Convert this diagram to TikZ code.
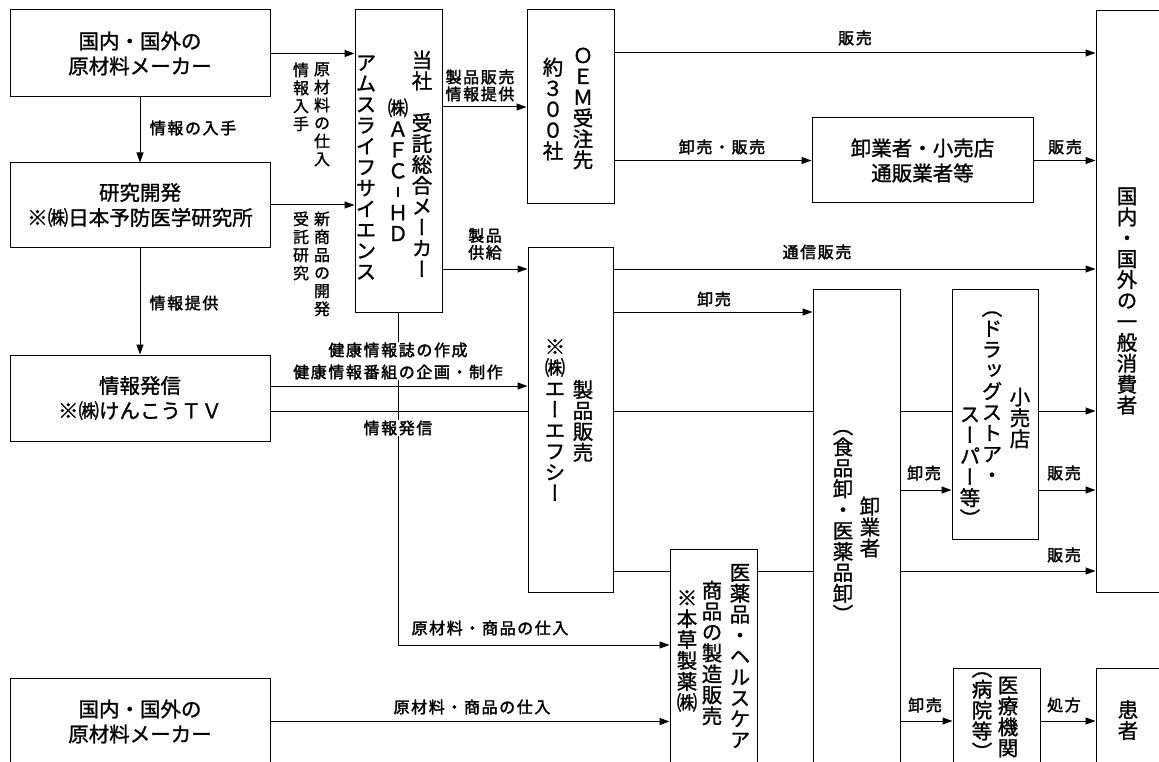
\documentclass[tikz,border=0pt]{standalone}
\usepackage{fontspec}
\usetikzlibrary{arrows.meta}
\setmainfont{Noto Sans CJK JP}[FakeBold=1.2]
\newfontfamily\tatefont[RawFeature=+vert, FakeBold=1.2]{Noto Sans CJK JP}
\newfontfamily\labfont[LetterSpace=10, FakeBold=2]{Noto Sans CJK JP}
\makeatletter
\newcommand\tate[2][1.02em]{\vtop{\tatefont\baselineskip=#1\relax\lineskiplimit=-\maxdimen
  \@tfor\tate@c:=#2\do{\hbox to 1em{\hss\tate@c\hss}}}}
\makeatother
\begin{document}
\begin{tikzpicture}[x=1pt, y=-1pt, ->, >={Triangle[length=10pt,width=7pt]}, line width=1pt,
    box/.style={draw, -, inner sep=0pt, align=center, font=\fontsize{20.5}{25}\selectfont},
    col/.style={inner sep=0pt, font=\fontsize{20.5}{25}\selectfont},
    lbl/.style={inner sep=1pt, align=center, font=\labfont\fontsize{16}{17}\selectfont},
    vlbl/.style={inner sep=0pt, anchor=north, font=\fontsize{16}{18}\selectfont}]
        \useasboundingbox (0,0) rectangle (1159,762);
        \fill[white] (0,0) rectangle (1159,762);
        \clip (0,0) rectangle (1159,762);

        \node[box, minimum width=260, minimum height=87] (mk1) at (140,53.5) {国内・国外の\\原材料メーカー};
        \node[box, minimum width=260, minimum height=84] (lab) at (140,205) {研究開発\\※㈱日本予防医学研究所};
        \node[box, minimum width=260, minimum height=86] (tv) at (140,398) {情報発信\\※㈱けんこうＴＶ};
        \node[box, minimum width=260, minimum height=87] (mk2) at (140,721.5) {国内・国外の\\原材料メーカー};
        \node[box, minimum width=87, minimum height=302] (afc) at (398.5,161) {};
        \node[box, minimum width=87, minimum height=194] (oem) at (570.5,107) {};
        \node[box, minimum width=221, minimum height=85] (ws) at (922.5,160.5) {卸業者・小売店\\通販業者等};
        \node[box, minimum width=70, minimum height=581] (cons) at (1131,301.5) {};
        \node[box, minimum width=85, minimum height=345] (sf) at (570.5,419.5) {};
        \node[box, minimum width=87, minimum height=230] (hz) at (713.5,664) {};
        \node[box, minimum width=87, minimum height=490] (wh) at (856.5,534) {};
        \node[box, minimum width=86, minimum height=250] (rt) at (995,414) {};
        \node[box, minimum width=87, minimum height=110] (med) at (996.5,723) {};
        \node[box, minimum width=70, minimum height=110] (pt) at (1131,723) {};

        \node[col, anchor=north] (afc1) at (422,50) {\tate{当社{}受託総合メーカー}};
        \node[col, anchor=north] (afc2) at (398,98) {\tate{㈱ＡＦＣ{\rule[0.12em]{0.08em}{0.5em}}ＨＤ}};
        \node[col, anchor=north] (afc3) at (366,55) {\tate{アムスライフサイエンス}};
        \node[col] (oem1) at (583,108.5) {\tate{ＯＥＭ受注先}};
        \node[col] (oem2) at (553,109) {\tate{約３００社}};
        \node[col] (cons1) at (1127,301) {\tate{国内・国外の一般消費者}};
        \node[col] (sf1) at (583,421) {\tate{製品販売}};
        \node[col] (sf2) at (555,420) {\tate{※㈱エーエフシー}};
        \node[col] (hz1) at (740,656) {\tate{医薬品・ヘルスケア}};
        \node[col] (hz2) at (712,653) {\tate{商品の製造販売}};
        \node[col] (hz3) at (687,651) {\tate{※本草製薬㈱}};
        \node[col] (wh1) at (870,527) {\tate{卸業者}};
        \node[col] (wh2) at (843,526) {\tate{（食品卸・医薬品卸）}};
        \node[col] (rt1) at (1020,418) {\tate{小売店}};
        \node[col] (rt2) at (992,397) {\tate{（ドラッグストア・}};
        \node[col] (rt3) at (970,467) {\tate{スーパー等）}};
        \node[col] (med1) at (1008,717) {\tate{医療機関}};
        \node[col] (med2) at (982,716) {\tate{（病院等）}};
        \node[col] (pt1) at (1128,720) {\tate{患者}};

        \draw (mk1) -- (mk1 -| afc.west);
        \draw (lab) -- (lab -| afc.west);
        \draw (mk1) -- (lab);
        \draw (lab) -- (tv);
        \draw (afc.east |- oem) -- (oem);
        \draw (afc.east |- 0,269) -- (sf.west |- 0,269);
        \draw (oem.east |- 0,53) -- (cons.west |- 0,53);
        \draw (oem.east |- ws) -- (ws);
        \draw (ws) -- (ws -| cons.west);
        \draw (sf.east |- 0,269) -- (cons.west |- 0,269);
        \draw (sf.east |- 0,312) -- (wh.west |- 0,312);
        \draw (tv.east |- 0,386) -- (sf.west |- 0,386);
        \draw[-] (tv.east |- 0,411) -- (sf.west |- 0,411);
        \draw[-] (sf.east |- 0,411) -- (wh.west |- 0,411);
        \draw[-] (wh.east |- 0,411) -- (rt.west |- 0,411);
        \draw (rt.east |- 0,411) -- (cons.west |- 0,411);
        \draw (wh.east |- 0,490) -- (rt.west |- 0,490);
        \draw (rt.east |- 0,490) -- (cons.west |- 0,490);
        \draw (wh.east |- 0,571) -- (cons.west |- 0,571);
        \draw[-] (sf.east |- 0,571) -- (hz.west |- 0,571);
        \draw[-] (hz.east |- 0,571) -- (wh.west |- 0,571);
        \draw (afc.south) |- (hz.west |- 0,645);
        \draw (mk2) -- (mk2 -| hz.west);
        \draw (wh.east |- 0,721) -- (med.west |- 0,721);
        \draw (med.east |- 0,721) -- (pt.west |- 0,721);

        \node[vlbl] (in1) at (322,62) {\tate[18pt]{原材料の仕入}};
        \node[vlbl] (in2) at (301,62) {\tate[18pt]{情報入手}};
        \node[vlbl] (dev1) at (322,211) {\tate[18pt]{新商品の開発}};
        \node[vlbl] (dev2) at (301,211) {\tate[18pt]{受託研究}};
        \node[lbl] (l1) at (193,128) {情報の入手};
        \node[lbl] (l2) at (184,303) {情報提供};
        \node[lbl] (l3) at (480,85.5) {製品販売\\情報提供};
        \node[lbl] (l4) at (485,244) {製品\\供給};
        \node[lbl] (l5) at (855,38) {販売};
        \node[lbl] (l6) at (722,147) {卸売・販売};
        \node[lbl] (l7) at (1065,147) {販売};
        \node[lbl] (l8) at (817,252) {通信販売};
        \node[lbl] (l9) at (714,299) {卸売};
        \node[lbl, fill=white, font=\labfont\fontsize{16}{22}\selectfont] (l10) at (398,361) {健康情報誌の作成\\健康情報番組の企画・制作};
        \node[lbl, fill=white] (l11) at (398,428) {情報発信};
        \node[lbl] (l12) at (490,628) {原材料・商品の仕入};
        \node[lbl] (l13) at (472,707) {原材料・商品の仕入};
        \node[lbl] (l14) at (924,473) {卸売};
        \node[lbl] (l15) at (1064,473) {販売};
        \node[lbl] (l16) at (1064,555) {販売};
        \node[lbl] (l17) at (925,705) {卸売};
        \node[lbl] (l18) at (1064,705) {処方};
\end{tikzpicture}
\end{document}
